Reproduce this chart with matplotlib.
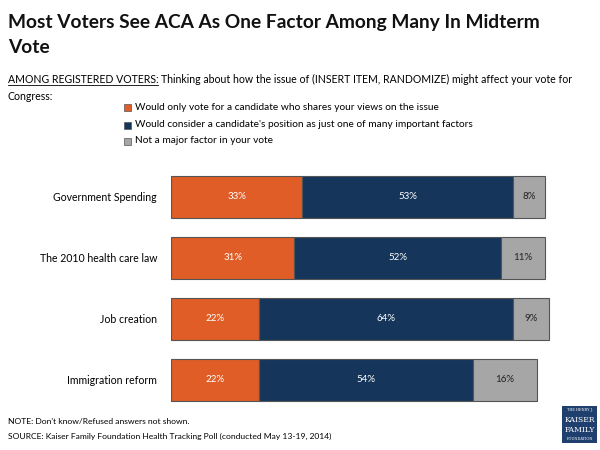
import matplotlib.pyplot as plt
from matplotlib.patches import Rectangle
from matplotlib.lines import Line2D

plt.rcParams['font.family'] = ['Lato', 'DejaVu Sans']

# data
categories = ['Government Spending', 'The 2010 health care law', 'Job creation', 'Immigration reform']
only_vote = [33, 31, 22, 22]
one_of_many = [53, 52, 64, 54]
not_major = [8, 11, 9, 16]
series_names = ['Would only vote for a candidate who shares your views on the issue',
                "Would consider a candidate's position as just one of many important factors",
                'Not a major factor in your vote']
colors = ['#E05D27', '#15365A', '#A6A6A6']
text_colors = ['white', 'white', '#222222']

fig = plt.figure(figsize=(6, 4.5), dpi=100)
ax = fig.add_axes([0.285, 0.088, 0.663, 0.542])

y = list(range(len(categories)))
left = [0] * len(categories)
for vals, col, tcol in zip([only_vote, one_of_many, not_major], colors, text_colors):
    ax.barh(y, vals, left=left, height=0.69, color=col, edgecolor='#555555', linewidth=0.8)
    for i, v in enumerate(vals):
        ax.text(left[i] + v / 2, y[i], f'{v}%', ha='center', va='center',
                fontsize=7, color=tcol)
    left = [l + v for l, v in zip(left, vals)]

ax.set_xlim(0, 100)
ax.set_ylim(3.5, -0.5)
ax.set_yticks(y)
ax.set_yticklabels(categories, fontsize=7.6)
ax.tick_params(axis='y', length=0, pad=10)
ax.set_xticks([])
for s in ax.spines.values():
    s.set_visible(False)

# title
fig.text(0.013, 0.95, 'Most Voters See ACA As One Factor Among Many In Midterm',
         fontsize=13.8, fontweight='bold', color='#111111', va='center')
fig.text(0.013, 0.895, 'Vote', fontsize=13.8, fontweight='bold', color='#111111', va='center')

# subtitle with underlined lead
sub_fs = 7.6
lead = fig.text(0.013, 0.823, 'AMONG REGISTERED VOTERS:', fontsize=sub_fs, va='center')
fig.canvas.draw()
bb = lead.get_window_extent().transformed(fig.transFigure.inverted())
fig.add_artist(Line2D([bb.x0, bb.x1], [bb.y0 + 0.001, bb.y0 + 0.001], color='black', linewidth=0.6))
fig.text(bb.x1 + 0.005, 0.823,
         'Thinking about how the issue of (INSERT ITEM, RANDOMIZE) might affect your vote for',
         fontsize=sub_fs, va='center')
fig.text(0.013, 0.785, 'Congress:', fontsize=sub_fs, va='center')

# legend
leg_y = [0.762, 0.723, 0.687]
for name, col, ly in zip(series_names, colors, leg_y):
    fig.add_artist(Rectangle((0.207, ly - 0.009), 0.011, 0.015, facecolor=col,
                             edgecolor='#555555', linewidth=0.5, transform=fig.transFigure))
    fig.text(0.225, ly, name, fontsize=7.3, va='center')

# footer
fig.text(0.013, 0.064, "NOTE: Don't know/Refused answers not shown.", fontsize=6.1, va='center')
fig.text(0.013, 0.031, 'SOURCE: Kaiser Family Foundation Health Tracking Poll (conducted May 13-19, 2014)',
         fontsize=6.1, va='center')

# logo
fig.add_artist(Rectangle((0.937, 0.016), 0.058, 0.082, facecolor='#1F3F6E',
                         transform=fig.transFigure))
fig.text(0.966, 0.088, 'THE HENRY J.', fontsize=2.5, color='white', ha='center', va='center', family='DejaVu Serif')
fig.text(0.966, 0.067, 'KAISER', fontsize=5.5, color='white', ha='center', va='center', family='DejaVu Serif')
fig.text(0.966, 0.045, 'FAMILY', fontsize=5.5, color='white', ha='center', va='center', family='DejaVu Serif')
fig.text(0.966, 0.025, 'FOUNDATION', fontsize=2.5, color='white', ha='center', va='center', family='DejaVu Serif')

fig.savefig('out.png', dpi=100)
